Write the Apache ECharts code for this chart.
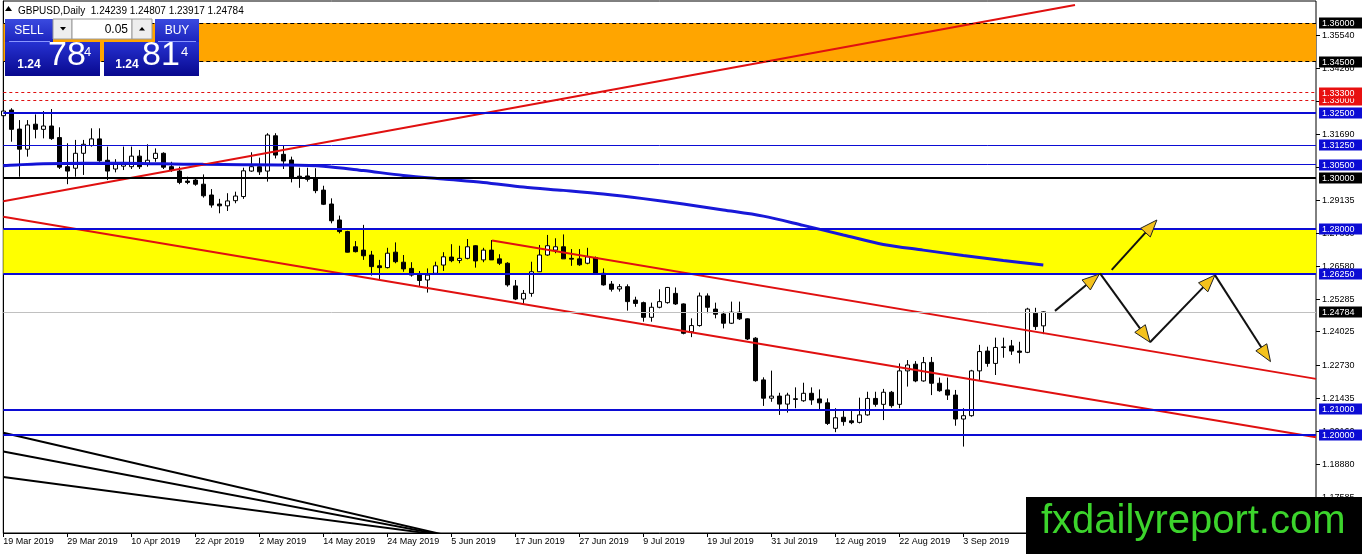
<!DOCTYPE html>
<html>
<head>
<meta charset="utf-8">
<script src="https://cdn.jsdelivr.net/npm/echarts@6/dist/echarts.min.js"></script>
<style>
html,body{margin:0;padding:0;background:#fff;}
#chart{width:1362px;height:554px;}
</style>
</head>
<body>
<div id="chart"></div>
<script>
// ---------- DATA ----------
const dateLabels = ['19 Mar 2019','29 Mar 2019','10 Apr 2019','22 Apr 2019','2 May 2019','14 May 2019','24 May 2019','5 Jun 2019','17 Jun 2019','27 Jun 2019','9 Jul 2019','19 Jul 2019','31 Jul 2019','12 Aug 2019','22 Aug 2019','3 Sep 2019'];

const opens = [1.3240,1.3262,1.3188,1.3110,1.3207,1.3187,1.3200,1.3155,1.3042,1.3036,
1.3094,1.3124,1.3150,1.3067,1.3033,1.3044,1.3042,1.3083,1.3052,1.3074,
1.3094,1.3042,1.3025,1.2986,1.2990,1.2974,1.2932,1.2897,1.2890,1.2910,
1.2926,1.3025,1.3042,1.3025,1.3162,1.3090,1.3068,1.3005,1.3006,1.2997,
1.2951,1.2897,1.2835,1.2790,1.2731,1.2718,1.2699,1.2657,1.2650,1.2710,
1.2671,1.2647,1.2624,1.2602,1.2628,1.2660,1.2691,1.2678,1.2686,1.2735,
1.2680,1.2718,1.2684,1.2667,1.2579,1.2528,1.2550,1.2634,1.2699,1.2718,
1.2731,1.2686,1.2684,1.2667,1.2689,1.2628,1.2586,1.2567,1.2576,1.2524,
1.2514,1.2457,1.2496,1.2514,1.2550,1.2509,1.2401,1.2425,1.2540,1.2489,
1.2470,1.2434,1.2477,1.2451,1.2376,1.2214,1.2143,1.2151,1.2120,1.2138,
1.2133,1.2162,1.2140,1.2125,1.2026,1.2069,1.2055,1.2049,1.2078,1.2142,
1.2119,1.2166,1.2119,1.2249,1.2275,1.2210,1.2282,1.2201,1.2175,1.2155,
1.2062,1.2075,1.2249,1.2326,1.2278,1.2340,1.2346,1.2326,1.2321,1.2473,
1.24239];
const closes = [1.3258,1.3187,1.3110,1.3204,1.3187,1.3200,1.3151,1.3040,1.3025,1.3094,
1.3129,1.3150,1.3065,1.3025,1.3051,1.3055,1.3083,1.3042,1.3067,1.3094,
1.3040,1.3029,1.2981,1.2981,1.2974,1.2929,1.2893,1.2890,1.2909,1.2928,
1.3026,1.3042,1.3022,1.3165,1.3087,1.3064,1.2999,1.2999,1.2993,1.2949,
1.2896,1.2832,1.2790,1.2710,1.2712,1.2696,1.2654,1.2650,1.2706,1.2673,
1.2645,1.2621,1.2600,1.2621,1.2657,1.2692,1.2677,1.2686,1.2731,1.2676,
1.2718,1.2680,1.2667,1.2583,1.2528,1.2550,1.2634,1.2699,1.2735,1.2731,
1.2684,1.2683,1.2661,1.2692,1.2628,1.2583,1.2566,1.2576,1.2518,1.2511,
1.2457,1.2496,1.2518,1.2573,1.2509,1.2395,1.2425,1.2540,1.2496,1.2469,
1.2434,1.2477,1.2451,1.2373,1.2211,1.2143,1.2151,1.2120,1.2155,1.2141,
1.2162,1.2136,1.2125,1.2045,1.2067,1.2052,1.2048,1.2078,1.2142,1.2119,
1.2166,1.2114,1.2249,1.2272,1.2210,1.2281,1.2201,1.2172,1.2155,1.2062,
1.2075,1.2249,1.2324,1.2278,1.2340,1.2342,1.2326,1.2321,1.2489,1.2421,
1.24784];
const lows = [1.3235,1.3139,1.3003,1.3081,1.3152,1.3152,1.3146,1.3033,1.2974,1.3003,
1.3010,1.3120,1.3061,1.2990,1.3020,1.3029,1.3033,1.3033,1.3042,1.3061,
1.3033,1.3022,1.2974,1.2974,1.2968,1.2922,1.2883,1.2861,1.2870,1.2900,
1.2917,1.3022,1.3010,1.2984,1.3074,1.3033,1.2981,1.2960,1.2984,1.2939,
1.2893,1.2822,1.2783,1.2709,1.2709,1.2680,1.2619,1.2606,1.2647,1.2667,
1.2634,1.2615,1.2576,1.2553,1.2624,1.2637,1.2671,1.2667,1.2682,1.2650,
1.2671,1.2680,1.2660,1.2576,1.2524,1.2509,1.2537,1.2633,1.2696,1.2706,
1.2684,1.2657,1.2657,1.2663,1.2623,1.2580,1.2557,1.2557,1.2483,1.2498,
1.2440,1.2440,1.2492,1.2510,1.2505,1.2391,1.2380,1.2421,1.2473,1.2453,
1.2414,1.2431,1.2447,1.2369,1.2207,1.2113,1.2129,1.2078,1.2087,1.2104,
1.2129,1.2117,1.2097,1.2039,1.2011,1.2036,1.2042,1.2045,1.2075,1.2110,
1.2058,1.2106,1.2104,1.2188,1.2205,1.2207,1.2155,1.2168,1.2136,1.2036,
1.1955,1.2071,1.2214,1.2265,1.2233,1.2300,1.2311,1.2278,1.2318,1.2408,
1.23917];
const highs = [1.3297,1.3269,1.3223,1.3223,1.3245,1.3258,1.3266,1.3195,1.3133,1.3146,
1.3146,1.3191,1.3191,1.3120,1.3071,1.3120,1.3120,1.3107,1.3129,1.3113,
1.3098,1.3061,1.3042,1.3003,1.2997,1.3012,1.2955,1.2917,1.2939,1.2945,
1.3038,1.3098,1.3077,1.3172,1.3172,1.3126,1.3081,1.3038,1.3038,1.3036,
1.2968,1.2919,1.2852,1.2793,1.2753,1.2816,1.2715,1.2680,1.2727,1.2748,
1.2699,1.2671,1.2637,1.2647,1.2673,1.2710,1.2741,1.2735,1.2761,1.2737,
1.2727,1.2757,1.2702,1.2671,1.2602,1.2563,1.2673,1.2738,1.2777,1.2764,
1.2779,1.2722,1.2722,1.2727,1.2693,1.2647,1.2598,1.2586,1.2585,1.2537,
1.2518,1.2514,1.2566,1.2575,1.2573,1.2511,1.2453,1.2553,1.2550,1.2514,
1.2479,1.2518,1.2518,1.2453,1.2380,1.2224,1.2250,1.2164,1.2164,1.2185,
1.2203,1.2185,1.2177,1.2142,1.2104,1.2097,1.2093,1.2145,1.2168,1.2168,
1.2179,1.2171,1.2278,1.2291,1.2287,1.2303,1.2303,1.2223,1.2223,1.2175,
1.2104,1.2253,1.2350,1.2343,1.2378,1.2378,1.2369,1.2362,1.2494,1.2494,
1.24807];

// moving average read at sample bars
const maBars = [0,5,10,15,20,25,30,35,40,45,50,55,60,65,70,75,80,85,90,95,100,105,110,115,120,125,130];
const maValues = [1.3046,1.3053,1.3055,1.3055,1.3053,1.3051,1.3050,1.3049,1.3044,1.3027,1.3008,1.2994,1.2981,1.2963,1.2950,1.2936,1.2918,1.2897,1.2874,1.2850,1.2814,1.2777,1.2740,1.2718,1.2697,1.2678,1.2660];

// trend lines [bar, price] endpoints
const trendRising = [[0, 1.2908], [133.96, 1.3670]];
const channelLower = [[0, 1.2848], [164.09, 1.1991]];
const channelUpper = [[61.1, 1.2755], [164.09, 1.2218]];
const fanLine1 = [[0, 1.2009], [55.2, 1.1612]];
const fanLine2 = [[0, 1.1936], [54.9, 1.1612]];
const fanLine3 = [[0, 1.1837], [54.6, 1.1612]];

// horizontal levels
const levelValues = [1.36, 1.345, 1.33, 1.333, 1.325, 1.3125, 1.305, 1.30, 1.28, 1.2625, 1.21, 1.20];
const levelTexts = ['1.36000','1.34500','1.33000','1.33300','1.32500','1.31250','1.30500','1.30000','1.28000','1.26250','1.21000','1.20000'];
const zoneOrange = [1.36, 1.345];
const zoneYellow = [1.28, 1.2625];

// y-axis tick labels
const yTickValues = [1.35540,1.34260,1.32975,1.31690,1.30410,1.29135,1.27860,1.26580,1.25285,1.24025,1.22730,1.21435,1.20160,1.18880,1.17585];
const yTickTexts = ['1.35540','1.34260','1.32975','1.31690','1.30410','1.29135','1.27860','1.26580','1.25285','1.24025','1.22730','1.21435','1.20160','1.18880','1.17585'];

// projection arrows [fromBar, fromPrice, toBar, toPrice]
const arrowSegments = [
  [131.46, 1.2482, 137.00, 1.2625],
  [138.55, 1.2641, 144.20, 1.2835],
  [137.09, 1.2628, 143.34, 1.2360],
  [143.34, 1.2360, 151.46, 1.2621],
  [151.46, 1.2621, 158.40, 1.2285]
];

const symbolName = 'GBPUSD,Daily';
const lotSize = '0.05';

// ---------- STYLES ----------
const BLUE = '#0c0cd4', RED = '#e01010', BLACK = '#000000';
const levelStyle = {
  1.36:{color:BLACK,width:1,type:[4,3],bg:BLACK},
  1.345:{color:BLACK,width:1,type:[4,3],bg:BLACK},
  1.33:{color:RED,width:1,type:[3,3],bg:'#e81010'},
  1.333:{color:RED,width:1,type:[3,3],bg:'#e81010'},
  1.325:{color:BLUE,width:2,type:'solid',bg:BLUE},
  1.3125:{color:BLUE,width:1,type:'solid',bg:BLUE},
  1.305:{color:BLUE,width:1,type:'solid',bg:BLUE},
  1.30:{color:BLACK,width:2,type:'solid',bg:BLACK},
  1.28:{color:BLUE,width:2,type:'solid',bg:BLUE},
  1.2625:{color:BLUE,width:2,type:'solid',bg:BLUE},
  1.21:{color:BLUE,width:2,type:'solid',bg:BLUE},
  1.20:{color:BLUE,width:2,type:'solid',bg:BLUE}
};
const FONT = '"Liberation Sans", Arial, sans-serif';
const lastIdx = closes.length - 1;
const lastClose = closes[lastIdx];
const lastText = lastClose.toFixed(5);

const candleData = opens.map((o, i) => [i, o, closes[i], lows[i], highs[i]]);
const maData = maBars.map((b, i) => [b, maValues[i]]);

const chart = echarts.init(document.getElementById('chart'), null, {renderer: 'canvas'});

function rightLabelRender(texts, bgFn, boxed) {
  return function (params, api) {
    const v = api.value(1);
    const p = api.coord([0, v]);
    const cs = params.coordSys;
    const right = cs.x + cs.width;
    const y = Math.round(p[1]) + 0.5;
    const txt = texts[params.dataIndex];
    const children = [];
    if (boxed) {
      children.push({type:'rect', shape:{x:right + 3, y:y - 6, width:46, height:11}, style:{fill:bgFn(params.dataIndex)}});
      children.push({type:'text', style:{text:txt, x:right + 6, y:y, verticalAlign:'middle', font:'9px ' + FONT, fill:'#fff'}});
    } else {
      children.push({type:'line', shape:{x1:right, y1:y, x2:right + 4, y2:y}, style:{stroke:'#000', lineWidth:1}});
      children.push({type:'text', style:{text:txt, x:right + 6, y:y, verticalAlign:'middle', font:'9px ' + FONT, fill:'#000'}});
    }
    return {type:'group', children};
  };
}

const levelLabelData = levelValues.map(v => [0, v]).concat([[0, lastClose]]);
const levelLabelTexts = levelTexts.concat([lastText]);
const levelBg = i => i < levelValues.length ? levelStyle[levelValues[i]].bg : BLACK;

function arrowRender(params, api) {
  const a = api.coord([api.value(0), api.value(1)]);
  const b = api.coord([api.value(2), api.value(3)]);
  const dx = b[0] - a[0], dy = b[1] - a[1];
  const L = Math.hypot(dx, dy), ux = dx / L, uy = dy / L;
  const hl = 17, hw = 6.5;
  const bx = b[0] - ux * hl, by = b[1] - uy * hl;
  return {type:'group', children:[
    {type:'line', shape:{x1:a[0], y1:a[1], x2:bx + ux * 2, y2:by + uy * 2}, style:{stroke:'#111', lineWidth:2}},
    {type:'polygon', shape:{points:[[b[0], b[1]], [bx - uy * hw, by + ux * hw], [bx + uy * hw, by - ux * hw]]},
     style:{fill:'#f4c21c', stroke:'#222', lineWidth:1}}
  ]};
}

function blueGrad(top, bottom) {
  return new echarts.graphic.LinearGradient(0, 0, 0, 1, [{offset:0, color:top}, {offset:1, color:bottom}]);
}

const BIG = '34px "Liberation Sans Narrow", "Liberation Sans", Arial, sans-serif';

const option = {
  animation: false,
  backgroundColor: '#fff',
  grid: {left: 3.3, right: 46, top: 1, bottom: 21, show: true, borderColor: '#000', borderWidth: 1, backgroundColor: '#fff'},
  xAxis: {
    type: 'value', min: 0, max: 1312.7 / 8, interval: 8,
    axisLine: {show: true, lineStyle: {color: '#000', width: 1}},
    axisTick: {show: true, length: 4, lineStyle: {color: '#000'}},
    splitLine: {show: false},
    axisLabel: {
      show: true, align: 'left', margin: 4, color: '#000', fontSize: 9, fontFamily: FONT,
      hideOverlap: false, showMaxLabel: true, showMinLabel: true,
      formatter: function (v) {
        const k = Math.round(v / 8);
        if (Math.abs(v - k * 8) > 0.3) return '';
        return dateLabels[k] || '';
      }
    }
  },
  yAxis: {
    type: 'value', position: 'right', min: 1.161942, max: 1.368544, scale: true,
    axisLine: {show: true, lineStyle: {color: '#000'}},
    axisTick: {show: false}, axisLabel: {show: false}, splitLine: {show: false}
  },
  graphic: [
    // header
    {type:'polygon', z:100, shape:{points:[[5,11],[8.5,6],[12,11]]}, style:{fill:'#000'}},
    {type:'text', z:100, x:18, y:11, style:{text: symbolName + '  ' + [opens[lastIdx], highs[lastIdx], lows[lastIdx], closes[lastIdx]].map(v => v.toFixed(5)).join(' '), font:'10px ' + FONT, fill:'#000', verticalAlign:'middle'}},
    // sell side
    {type:'rect', z:100, shape:{x:5, y:19, width:48, height:24}, style:{fill: blueGrad('#3a4ae0', '#1a22bc')}},
    {type:'rect', z:100, shape:{x:5, y:42, width:95, height:34}, style:{fill: blueGrad('#2632d2', '#08088e')}},
    {type:'line', z:101, shape:{x1:9, y1:41.5, x2:50, y2:41.5}, style:{stroke:'#8a96ff', lineWidth:1}},
    {type:'text', z:101, x:29, y:31, style:{text:'SELL', font:'12px ' + FONT, fill:'#fff', align:'center', verticalAlign:'middle'}},
    {type:'text', z:101, x:29, y:65, style:{text:'1.24', font:'bold 12px ' + FONT, fill:'#fff', align:'center', verticalAlign:'middle'}},
    {type:'text', z:101, x:48, y:56, style:{text:'78', font:BIG, fill:'#fff', verticalAlign:'middle'}},
    {type:'text', z:101, x:84, y:52, style:{text:'4', font:'13px ' + FONT, fill:'#fff', verticalAlign:'middle'}},
    // lot controls
    {type:'rect', z:100, shape:{x:53, y:19, width:19, height:20}, style:{fill:'#eeeeee', stroke:'#9a9a9a', lineWidth:1}},
    {type:'polygon', z:101, shape:{points:[[60,27],[66,27],[63,30.5]]}, style:{fill:'#000'}},
    {type:'rect', z:100, shape:{x:72, y:19, width:60, height:20}, style:{fill:'#ffffff', stroke:'#9a9a9a', lineWidth:1}},
    {type:'text', z:101, x:128, y:29.5, style:{text: lotSize, font:'12px ' + FONT, fill:'#000', align:'right', verticalAlign:'middle'}},
    {type:'rect', z:100, shape:{x:132, y:19, width:20, height:20}, style:{fill:'#eeeeee', stroke:'#9a9a9a', lineWidth:1}},
    {type:'polygon', z:101, shape:{points:[[139,30.5],[145,30.5],[142,27]]}, style:{fill:'#000'}},
    // buy side
    {type:'rect', z:100, shape:{x:155, y:19, width:44, height:24}, style:{fill: blueGrad('#3a4ae0', '#1a22bc')}},
    {type:'rect', z:100, shape:{x:104, y:42, width:95, height:34}, style:{fill: blueGrad('#2632d2', '#08088e')}},
    {type:'line', z:101, shape:{x1:158, y1:41.5, x2:196, y2:41.5}, style:{stroke:'#8a96ff', lineWidth:1}},
    {type:'text', z:101, x:177, y:31, style:{text:'BUY', font:'12px ' + FONT, fill:'#fff', align:'center', verticalAlign:'middle'}},
    {type:'text', z:101, x:127, y:65, style:{text:'1.24', font:'bold 12px ' + FONT, fill:'#fff', align:'center', verticalAlign:'middle'}},
    {type:'text', z:101, x:142, y:56, style:{text:'81', font:BIG, fill:'#fff', verticalAlign:'middle'}},
    {type:'text', z:101, x:181, y:52, style:{text:'4', font:'13px ' + FONT, fill:'#fff', verticalAlign:'middle'}},
    // watermark
    {type:'rect', z:200, shape:{x:1026, y:497, width:336, height:57}, style:{fill:'#000'}},
    {type:'text', z:201, x:1041, y:522, style:{text:'fxdailyreport.com', font:'40px ' + FONT, fill:'#3cd42c', verticalAlign:'middle'}}
  ],
  series: [
    {
      name: 'zones', type: 'line', data: [], z: 0, silent: true,
      markArea: {
        silent: true, precision: 6,
        data: [
          [{yAxis: zoneOrange[0], itemStyle: {color: '#ffa500', opacity: 1}}, {yAxis: zoneOrange[1]}],
          [{yAxis: zoneYellow[0], itemStyle: {color: '#ffff00', opacity: 1}}, {yAxis: zoneYellow[1]}]
        ]
      }
    },
    {
      name: 'levels', type: 'line', data: [], z: 1, silent: true,
      markLine: {
        silent: true, precision: 6, symbol: ['none', 'none'], label: {show: false}, animation: false,
        data: levelValues.map(v => ({yAxis: v, lineStyle: {color: levelStyle[v].color, width: levelStyle[v].width, type: levelStyle[v].type}}))
          .concat([{yAxis: lastClose, lineStyle: {color: '#c0c0c0', width: 1, type: 'solid'}}])
      }
    },
    {
      name: symbolName, type: 'candlestick', z: 3, barWidth: 5,
      encode: {x: 0, y: [1, 2, 3, 4]},
      data: candleData,
      itemStyle: {color: '#ffffff', color0: '#000000', borderColor: '#000000', borderColor0: '#000000', borderWidth: 1}
    },
    {
      name: 'MA', type: 'line', z: 4, data: maData, showSymbol: false, symbol: 'none', smooth: 0.3,
      lineStyle: {color: '#1818d8', width: 3}
    },
    {name: 'rising', type: 'line', z: 4, data: trendRising, symbol: 'none', lineStyle: {color: RED, width: 2}},
    {name: 'chLow', type: 'line', z: 4, data: channelLower, symbol: 'none', lineStyle: {color: RED, width: 2}},
    {name: 'chUp', type: 'line', z: 4, data: channelUpper, symbol: 'none', lineStyle: {color: RED, width: 2}},
    {name: 'fan1', type: 'line', z: 4, data: fanLine1, symbol: 'none', lineStyle: {color: BLACK, width: 2}},
    {name: 'fan2', type: 'line', z: 4, data: fanLine2, symbol: 'none', lineStyle: {color: BLACK, width: 2}},
    {name: 'fan3', type: 'line', z: 4, data: fanLine3, symbol: 'none', lineStyle: {color: BLACK, width: 2}},
    {
      name: 'arrows', type: 'custom', z: 6, clip: false, silent: true,
      encode: {x: [0, 2], y: [1, 3]},
      data: arrowSegments, renderItem: arrowRender
    },
    {
      name: 'yticks', type: 'custom', z: 7, clip: false, silent: true,
      encode: {x: 0, y: 1},
      data: yTickValues.map(v => [0, v]), renderItem: rightLabelRender(yTickTexts, null, false)
    },
    {
      name: 'ylevels', type: 'custom', z: 8, clip: false, silent: true,
      encode: {x: 0, y: 1},
      data: levelLabelData, renderItem: rightLabelRender(levelLabelTexts, levelBg, true)
    }
  ]
};
chart.setOption(option);
</script>
</body>
</html>
